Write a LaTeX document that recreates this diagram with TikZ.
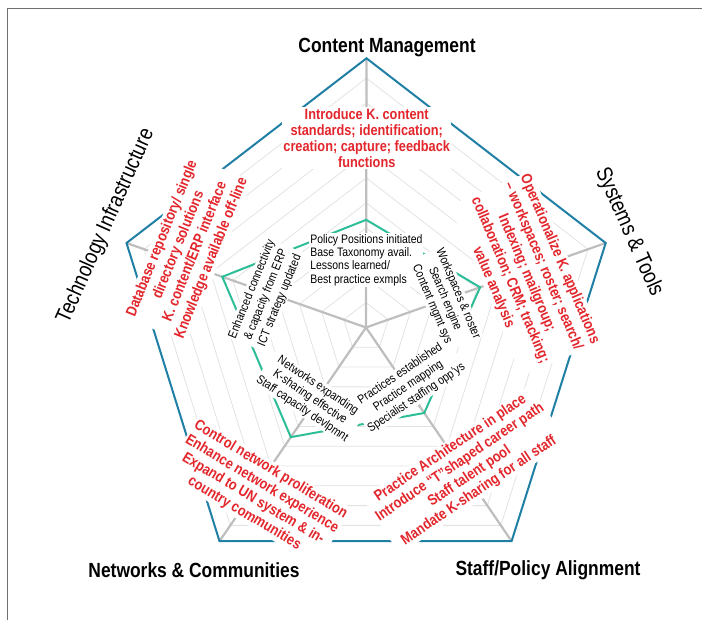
\documentclass[tikz,border=0pt]{standalone}
\usepackage{fontspec}
\setmainfont{Liberation Sans}[FakeStretch=0.85]
\usetikzlibrary{calc}
\definecolor{rimblue}{HTML}{1F7FA4}
\definecolor{datagreen}{HTML}{2DBE98}
\definecolor{notered}{HTML}{E3262C}
\definecolor{axisgrey}{HTML}{BEBEBE}
\definecolor{gridgrey}{HTML}{E2E2E2}
\definecolor{framegrey}{HTML}{707070}
\begin{document}
\begin{tikzpicture}[x=1pt,y=-1pt,
  title/.style={font=\fontsize{20.5}{24}\selectfont\bfseries, inner sep=0pt},
  sidetitle/.style={font=\fontsize{22}{26}\selectfont, inner sep=0pt},
  goal/.style={font=\fontsize{15}{#1}\selectfont\bfseries, text=notered, fill=white, align=center, inner sep=1.5pt},
  goal/.default=17,
  status/.style={font=\fontsize{12.3}{#1}\selectfont, fill=white, align=center, inner sep=1pt},
  status/.default=14,
  ring/.style={gridgrey, line width=0.8pt},
  spoke/.style={axisgrey, line width=2.2pt},
  rim/.style={rimblue, line width=2pt, line join=miter},
  level/.style={datagreen, line width=2pt, line join=miter}]
\useasboundingbox (0,0) rectangle (702,620);

% frame
\draw[framegrey, line width=0.8pt] (7,620) -- (7,8) -- (702,8);

% centre and the five axis ends
\coordinate (c)  at (366,327.5);
\coordinate (v0) at (366.5,58.3);
\coordinate (v1) at (605.7,243);
\coordinate (v2) at (511.6,541.2);
\coordinate (v3) at (219.5,541.2);
\coordinate (v4) at (126.5,243);

% grid rings
\foreach \k in {1,...,10} {
  \pgfmathsetmacro\f{0.0926*\k}
  \draw[ring] ($(c)!\f!(v0)$) -- ($(c)!\f!(v1)$) -- ($(c)!\f!(v2)$)
    -- ($(c)!\f!(v3)$) -- ($(c)!\f!(v4)$) -- cycle;
}

% axes
\foreach \i in {0,...,4} \draw[spoke] (c) -- (v\i);

% outer rim
\draw[rim] (v0) -- (v1) -- (v2) -- (v3) -- (v4) -- cycle;

% current level
\coordinate (g0) at ($(c)!0.40!(v0)$);
\coordinate (g1) at ($(c)!0.476!(v1)$);
\coordinate (g2) at ($(c)!0.40!(v2)$);
\coordinate (g3) at ($(c)!0.513!(v3)$);
\coordinate (g4) at ($(c)!0.60!(v4)$);
\draw[level] (g0) -- (g1) -- (g2) -- (g3) -- (g4) -- cycle;

% axis titles
\node[title] (t-content) at (387,48) {Content Management};
\node[title] (t-networks) at (194,570) {Networks \& Communities};
\node[title] (t-staff) at (548,570) {Staff/Policy Alignment};
\node[sidetitle, rotate=-66] (t-systems) at (629,232) {Systems \& Tools};
\node[sidetitle, rotate=66] (t-tech) at (106,226) {Technology Infrastructure};

% targets
\node[goal=16] (g-content) at (366.7,138) {Introduce K. content\\standards; identification;\\creation; capture; feedback\\functions};
\node[goal=18, rotate=-67] (g-systems) at (526.5,273.3) {Operationalize K. applications\\– workspaces; roster; search/\\Indexing; mailgroup;\\collaboration; CRM; tracking;\\value analysis};
\node[goal, rotate=34] (g-staff) at (464.8,469.6) {Practice Architecture in place\\Introduce “T”shaped career path\\Staff talent pool\\Mandate K-sharing for all staff};
\node[goal, rotate=-31] (g-networks) at (257.5,491.6) {Control network proliferation\\Enhance network experience\\Expand to UN system \& in-\\country communities};
\node[goal=17.7, rotate=68] (g-tech) at (187,248.5) {Database repository/ single\\directory solutions\\K. content/ERP interface\\Knowledge available off-line};

% current status
\node[status=14.5, rotate=34] (s-staff) at (408.4,386) {Practices established\\Practice mapping\\Specialist staffing opp’ys};
\node[status, rotate=-34] (s-networks) at (310,397.4) {Networks expanding\\K-sharing effective\\Staff capacity devlpmnt};
\node[status=15, rotate=68] (s-tech) at (266,295) {Enhanced connectivity\\\& capacity from ERP\\ICT strategy updated};
\node[status=13.3, align=left] (s-content) at (366.4,260) {Policy Positions initiated\\Base Taxonomy avail.\\Lessons learned/\\Best practice exmpls};
\node[status, rotate=-67] (s-systems) at (445,299) {Workspaces \& roster\\Search engine\\Content mgmt sys};
\end{tikzpicture}
\end{document}
